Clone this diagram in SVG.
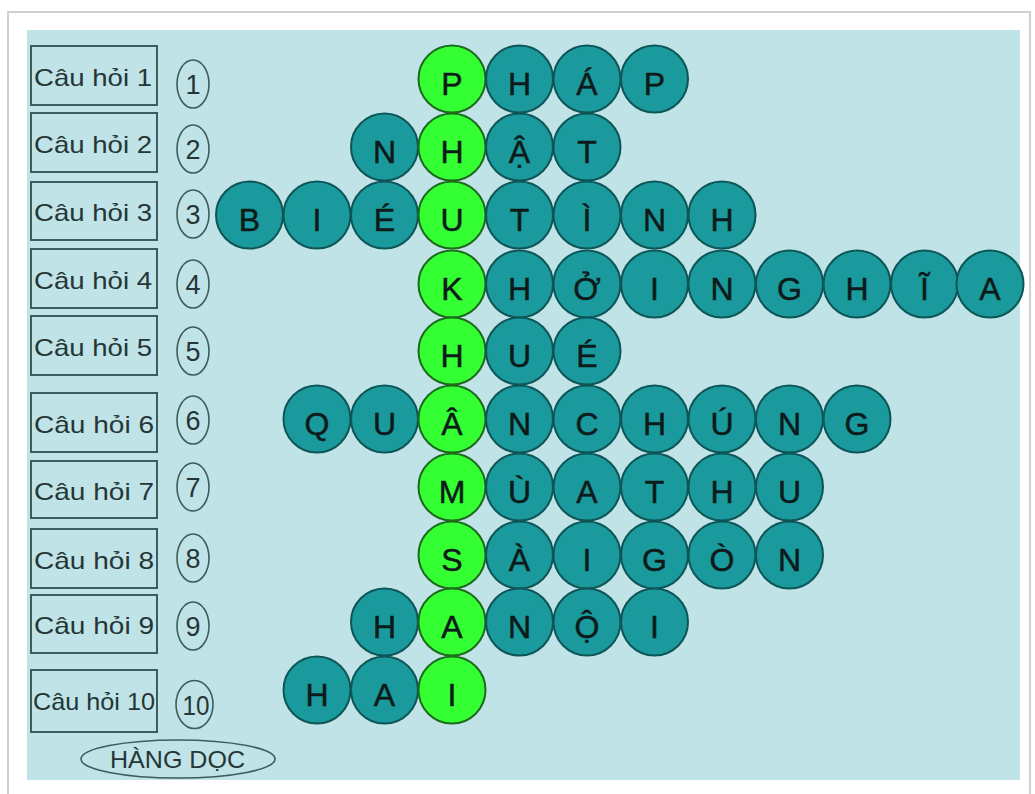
<svg xmlns="http://www.w3.org/2000/svg" width="1035" height="794" viewBox="0 0 1035 794">
<style>
.frame{fill:#ffffff;stroke:#d0d0d0;stroke-width:2}
.panel{fill:#bfe3e7}
.qbox{fill:#bfe3e7;stroke:#3f5c5c;stroke-width:2}
.qtxt{font-family:"Liberation Sans",Arial,sans-serif;font-size:24px;fill:#263636}
.num{fill:none;stroke:#3f5c5c;stroke-width:1.6}
.ntxt{font-family:"Liberation Sans",Arial,sans-serif;font-size:27px;fill:#263636;text-anchor:middle}
.c{fill:#1a9a9c;stroke:#0e5557;stroke-width:2}
.g{fill:#33ff33;stroke:#1c6b1c;stroke-width:2}
.l{font-family:"Liberation Sans",Arial,sans-serif;font-size:32px;fill:#0d1a1a;stroke:#0d1a1a;stroke-width:0.5;text-anchor:middle}
</style>
<rect x="0" y="0" width="1035" height="794" fill="#ffffff"/>
<rect class="frame" x="8" y="12" width="1022" height="784"/>
<rect class="panel" x="27" y="30" width="993" height="750"/>

<g id="questions">
<g id="q1"><rect class="qbox" x="31" y="46" width="126" height="59"/><text class="qtxt" x="34" y="86" textLength="118" lengthAdjust="spacingAndGlyphs">Câu hỏi 1</text></g>
<g id="q2"><rect class="qbox" x="31" y="113" width="126" height="59"/><text class="qtxt" x="34" y="153" textLength="118" lengthAdjust="spacingAndGlyphs">Câu hỏi 2</text></g>
<g id="q3"><rect class="qbox" x="31" y="182" width="126" height="58"/><text class="qtxt" x="34" y="221" textLength="118" lengthAdjust="spacingAndGlyphs">Câu hỏi 3</text></g>
<g id="q4"><rect class="qbox" x="31" y="249" width="126" height="59"/><text class="qtxt" x="34" y="289" textLength="118" lengthAdjust="spacingAndGlyphs">Câu hỏi 4</text></g>
<g id="q5"><rect class="qbox" x="31" y="316" width="126" height="59"/><text class="qtxt" x="34" y="356" textLength="118" lengthAdjust="spacingAndGlyphs">Câu hỏi 5</text></g>
<g id="q6"><rect class="qbox" x="31" y="393" width="126" height="59"/><text class="qtxt" x="34" y="433" textLength="120" lengthAdjust="spacingAndGlyphs">Câu hỏi 6</text></g>
<g id="q7"><rect class="qbox" x="31" y="461" width="126" height="57"/><text class="qtxt" x="34" y="500" textLength="120" lengthAdjust="spacingAndGlyphs">Câu hỏi 7</text></g>
<g id="q8"><rect class="qbox" x="31" y="529" width="126" height="59"/><text class="qtxt" x="34" y="569" textLength="120" lengthAdjust="spacingAndGlyphs">Câu hỏi 8</text></g>
<g id="q9"><rect class="qbox" x="31" y="595" width="126" height="58"/><text class="qtxt" x="34" y="634" textLength="120" lengthAdjust="spacingAndGlyphs">Câu hỏi 9</text></g>
<g id="q10"><rect class="qbox" x="31" y="670" width="126" height="62"/><text class="qtxt" x="33" y="710" textLength="122" lengthAdjust="spacingAndGlyphs">Câu hỏi 10</text></g>
</g>

<g id="numbers">
<g id="n1"><ellipse class="num" cx="193" cy="84" rx="16" ry="24"/><text class="ntxt" x="193" y="94">1</text></g>
<g id="n2"><ellipse class="num" cx="193" cy="149" rx="16" ry="24"/><text class="ntxt" x="193" y="159">2</text></g>
<g id="n3"><ellipse class="num" cx="193" cy="214" rx="16" ry="24"/><text class="ntxt" x="193" y="224">3</text></g>
<g id="n4"><ellipse class="num" cx="193" cy="284" rx="16" ry="24"/><text class="ntxt" x="193" y="294">4</text></g>
<g id="n5"><ellipse class="num" cx="193" cy="351" rx="16" ry="24"/><text class="ntxt" x="193" y="361">5</text></g>
<g id="n6"><ellipse class="num" cx="193" cy="420" rx="16" ry="24"/><text class="ntxt" x="193" y="430">6</text></g>
<g id="n7"><ellipse class="num" cx="193" cy="487" rx="16" ry="24"/><text class="ntxt" x="193" y="497">7</text></g>
<g id="n8"><ellipse class="num" cx="193" cy="558" rx="16" ry="24"/><text class="ntxt" x="193" y="568">8</text></g>
<g id="n9"><ellipse class="num" cx="193" cy="626" rx="16" ry="24"/><text class="ntxt" x="193" y="636">9</text></g>
<g id="n10"><ellipse class="num" cx="194.5" cy="704.5" rx="18.5" ry="24"/><text class="ntxt" x="196" y="715" textLength="27" lengthAdjust="spacingAndGlyphs">10</text></g>
</g>

<g id="hangdoc"><ellipse class="num" cx="178" cy="759" rx="97" ry="19"/><text class="qtxt" x="110" y="768" font-size="27" textLength="135" lengthAdjust="spacingAndGlyphs">HÀNG DỌC</text></g>

<g id="row1">
<circle class="g" cx="452" cy="79" r="33.5"/><text class="l" x="452" y="95">P</text>
<circle class="c" cx="519.5" cy="79" r="33.5"/><text class="l" x="519.5" y="95">H</text>
<circle class="c" cx="587" cy="79" r="33.5"/><text class="l" x="587" y="95">Á</text>
<circle class="c" cx="654.5" cy="79" r="33.5"/><text class="l" x="654.5" y="95">P</text>
</g>
<g id="row2">
<circle class="c" cx="384.5" cy="147" r="33.5"/><text class="l" x="384.5" y="163">N</text>
<circle class="g" cx="452" cy="147" r="33.5"/><text class="l" x="452" y="163">H</text>
<circle class="c" cx="519.5" cy="147" r="33.5"/><text class="l" x="519.5" y="163">Ậ</text>
<circle class="c" cx="587" cy="147" r="33.5"/><text class="l" x="587" y="163">T</text>
</g>
<g id="row3">
<circle class="c" cx="249.5" cy="215" r="33.5"/><text class="l" x="249.5" y="231">B</text>
<circle class="c" cx="317" cy="215" r="33.5"/><text class="l" x="317" y="231">I</text>
<circle class="c" cx="384.5" cy="215" r="33.5"/><text class="l" x="384.5" y="231">É</text>
<circle class="g" cx="452" cy="215" r="33.5"/><text class="l" x="452" y="231">U</text>
<circle class="c" cx="519.5" cy="215" r="33.5"/><text class="l" x="519.5" y="231">T</text>
<circle class="c" cx="587" cy="215" r="33.5"/><text class="l" x="587" y="231">Ì</text>
<circle class="c" cx="654.5" cy="215" r="33.5"/><text class="l" x="654.5" y="231">N</text>
<circle class="c" cx="722" cy="215" r="33.5"/><text class="l" x="722" y="231">H</text>
</g>
<g id="row4">
<circle class="g" cx="452" cy="284" r="33.5"/><text class="l" x="452" y="300">K</text>
<circle class="c" cx="519.5" cy="284" r="33.5"/><text class="l" x="519.5" y="300">H</text>
<circle class="c" cx="587" cy="284" r="33.5"/><text class="l" x="587" y="300">Ở</text>
<circle class="c" cx="654.5" cy="284" r="33.5"/><text class="l" x="654.5" y="300">I</text>
<circle class="c" cx="722" cy="284" r="33.5"/><text class="l" x="722" y="300">N</text>
<circle class="c" cx="789.5" cy="284" r="33.5"/><text class="l" x="789.5" y="300">G</text>
<circle class="c" cx="857" cy="284" r="33.5"/><text class="l" x="857" y="300">H</text>
<circle class="c" cx="924.5" cy="284" r="33.5"/><text class="l" x="924.5" y="300">Ĩ</text>
<circle class="c" cx="990" cy="284" r="33.5"/><text class="l" x="990" y="300">A</text>
</g>
<g id="row5">
<circle class="g" cx="452" cy="351" r="33.5"/><text class="l" x="452" y="367">H</text>
<circle class="c" cx="519.5" cy="351" r="33.5"/><text class="l" x="519.5" y="367">U</text>
<circle class="c" cx="587" cy="351" r="33.5"/><text class="l" x="587" y="367">É</text>
</g>
<g id="row6">
<circle class="c" cx="317" cy="419" r="33.5"/><text class="l" x="317" y="435">Q</text>
<circle class="c" cx="384.5" cy="419" r="33.5"/><text class="l" x="384.5" y="435">U</text>
<circle class="g" cx="452" cy="419" r="33.5"/><text class="l" x="452" y="435">Â</text>
<circle class="c" cx="519.5" cy="419" r="33.5"/><text class="l" x="519.5" y="435">N</text>
<circle class="c" cx="587" cy="419" r="33.5"/><text class="l" x="587" y="435">C</text>
<circle class="c" cx="654.5" cy="419" r="33.5"/><text class="l" x="654.5" y="435">H</text>
<circle class="c" cx="722" cy="419" r="33.5"/><text class="l" x="722" y="435">Ú</text>
<circle class="c" cx="789.5" cy="419" r="33.5"/><text class="l" x="789.5" y="435">N</text>
<circle class="c" cx="857" cy="419" r="33.5"/><text class="l" x="857" y="435">G</text>
</g>
<g id="row7">
<circle class="g" cx="452" cy="487" r="33.5"/><text class="l" x="452" y="503">M</text>
<circle class="c" cx="519.5" cy="487" r="33.5"/><text class="l" x="519.5" y="503">Ù</text>
<circle class="c" cx="587" cy="487" r="33.5"/><text class="l" x="587" y="503">A</text>
<circle class="c" cx="654.5" cy="487" r="33.5"/><text class="l" x="654.5" y="503">T</text>
<circle class="c" cx="722" cy="487" r="33.5"/><text class="l" x="722" y="503">H</text>
<circle class="c" cx="789.5" cy="487" r="33.5"/><text class="l" x="789.5" y="503">U</text>
</g>
<g id="row8">
<circle class="g" cx="452" cy="555" r="33.5"/><text class="l" x="452" y="571">S</text>
<circle class="c" cx="519.5" cy="555" r="33.5"/><text class="l" x="519.5" y="571">À</text>
<circle class="c" cx="587" cy="555" r="33.5"/><text class="l" x="587" y="571">I</text>
<circle class="c" cx="654.5" cy="555" r="33.5"/><text class="l" x="654.5" y="571">G</text>
<circle class="c" cx="722" cy="555" r="33.5"/><text class="l" x="722" y="571">Ò</text>
<circle class="c" cx="789.5" cy="555" r="33.5"/><text class="l" x="789.5" y="571">N</text>
</g>
<g id="row9">
<circle class="c" cx="384.5" cy="622" r="33.5"/><text class="l" x="384.5" y="638">H</text>
<circle class="g" cx="452" cy="622" r="33.5"/><text class="l" x="452" y="638">A</text>
<circle class="c" cx="519.5" cy="622" r="33.5"/><text class="l" x="519.5" y="638">N</text>
<circle class="c" cx="587" cy="622" r="33.5"/><text class="l" x="587" y="638">Ộ</text>
<circle class="c" cx="654.5" cy="622" r="33.5"/><text class="l" x="654.5" y="638">I</text>
</g>
<g id="row10">
<circle class="c" cx="317" cy="690" r="33.5"/><text class="l" x="317" y="706">H</text>
<circle class="c" cx="384.5" cy="690" r="33.5"/><text class="l" x="384.5" y="706">A</text>
<circle class="g" cx="452" cy="690" r="33.5"/><text class="l" x="452" y="706">I</text>
</g>
<g id="connectors"></g>
</svg>
